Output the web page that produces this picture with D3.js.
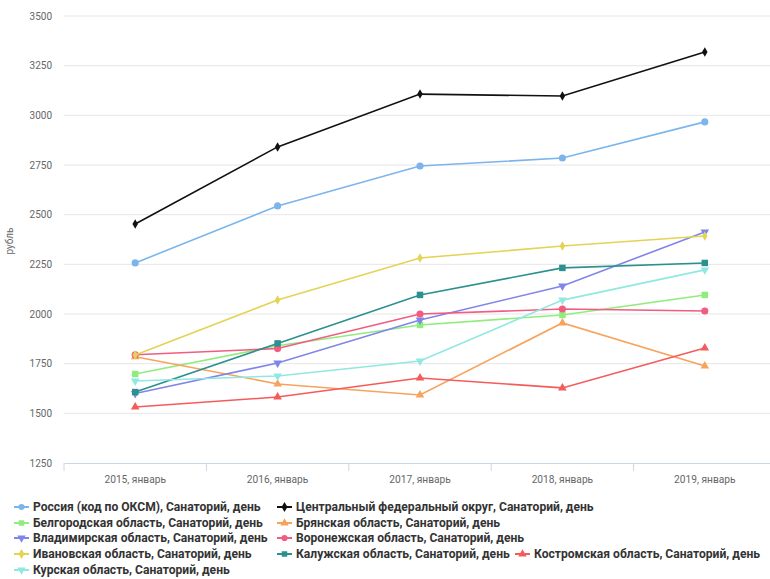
<!DOCTYPE html>
<html><head><meta charset="utf-8">
<script src="https://cdn.jsdelivr.net/npm/d3@7"></script>
<style>body{margin:0;background:#fff}svg{display:block}</style>
</head><body><svg id="c" width="770" height="579"></svg>
<script>
const categories = ["2015, январь","2016, январь","2017, январь","2018, январь","2019, январь"];
const yTicks = [1250,1500,1750,2000,2250,2500,2750,3000,3250,3500];
const seriesNames = [
 "Россия (код по ОКСМ), Санаторий, день",
 "Центральный федеральный округ, Санаторий, день",
 "Белгородская область, Санаторий, день",
 "Брянская область, Санаторий, день",
 "Владимирская область, Санаторий, день",
 "Воронежская область, Санаторий, день",
 "Ивановская область, Санаторий, день",
 "Калужская область, Санаторий, день",
 "Костромская область, Санаторий, день",
 "Курская область, Санаторий, день"
];
const russia   = [2257,2544,2745,2785,2967];
const central  = [2453,2841,3107,3097,3319];
const belgorod = [1698,1840,1945,1995,2096];
const bryansk  = [1785,1648,1592,1955,1738];
const vladimir = [1600,1753,1970,2141,2413];
const voronezh = [1795,1826,2000,2025,2015];
const ivanovo  = [1794,2070,2282,2342,2393];
const kaluga   = [1607,1852,2096,2232,2257];
const kostroma = [1532,1582,1678,1628,1829];
const kursk    = [1663,1688,1763,2070,2222];
const colors = ["#7cb5ec","#111111","#90ed7d","#f7a35c","#8085e9","#f15c80","#e4d354","#2b908f","#f45b5b","#91e8e1"];
const symbols = [d3.symbolCircle,d3.symbolDiamond,d3.symbolSquare,d3.symbolTriangle,"down",d3.symbolCircle,d3.symbolDiamond,d3.symbolSquare,d3.symbolTriangle,"down"];
const values = [russia,central,belgorod,bryansk,vladimir,voronezh,ivanovo,kaluga,kostroma,kursk];

const svg = d3.select("#c");
const x = d3.scaleBand().domain(categories).range([64,776]);
const y = d3.scaleLinear().domain([1250,3500]).range([463,16]);
const font = "Roboto, 'DejaVu Sans', sans-serif";

svg.append("g").selectAll("line").data(yTicks.filter(d=>d>1250)).join("line")
  .attr("x1",64).attr("x2",770).attr("y1",d=>y(d)).attr("y2",d=>y(d))
  .attr("stroke","#e6e6e6").attr("stroke-width",1);
svg.append("g").selectAll("text").data(yTicks).join("text")
  .attr("x",52).attr("y",d=>y(d)+3.5).attr("text-anchor","end")
  .attr("font-family",font).attr("font-size",10).attr("fill","#666").text(d=>d);
svg.append("text").attr("transform","translate(13,241) rotate(-90)").attr("text-anchor","middle")
  .attr("font-family",font).attr("font-size",10).attr("fill","#666").text("рубль");
const xa = svg.append("g").attr("transform","translate(0,463)")
  .call(d3.axisBottom(x).tickSize(0).tickPadding(13));
xa.select(".domain").attr("stroke","#ccd6eb");
xa.selectAll("text").attr("font-family",font).attr("font-size",10.2).attr("fill","#666");
svg.append("g").selectAll("line").data(d3.range(6)).join("line")
  .attr("x1",i=>64+i*x.bandwidth()).attr("x2",i=>64+i*x.bandwidth())
  .attr("y1",463).attr("y2",471).attr("stroke","#ccd6eb");

function sym(s,size){
  if(s==="down") return d3.symbol(d3.symbolTriangle,size)();
  return d3.symbol(s,size)();
}
function msize(s){ return s===d3.symbolCircle?40:s===d3.symbolSquare?42:s===d3.symbolDiamond?26:32; }
const line = d3.line().x((d,i)=>x(categories[i])+x.bandwidth()/2).y(d=>y(d));
values.forEach((vals,si)=>{
  const g = svg.append("g");
  g.append("path").attr("d",line(vals)).attr("fill","none").attr("stroke",colors[si]).attr("stroke-width",1.6);
  g.selectAll("path.m").data(vals).join("path").attr("class","m")
    .attr("d",sym(symbols[si],msize(symbols[si])))
    .attr("transform",(d,i)=>`translate(${x(categories[i])+x.bandwidth()/2},${y(d)})${symbols[si]==="down"?" rotate(180)":""}`)
    .attr("fill",colors[si]);
});

const legendPos = [[14,507],[277,507],[14,523],[277,523],[14,538],[277,538],[14,554],[277,554],[515,554],[14,570]];
const lg = svg.append("g");
seriesNames.forEach((n,i)=>{
  const [lx,ly] = legendPos[i];
  const g = lg.append("g").attr("transform",`translate(${lx},${ly})`);
  g.append("line").attr("x1",0).attr("x2",15).attr("y1",0).attr("y2",0).attr("stroke",colors[i]).attr("stroke-width",2);
  g.append("path").attr("d",sym(symbols[i],30)).attr("fill",colors[i])
    .attr("transform",`translate(7.5,0)${symbols[i]==="down"?" rotate(180)":""}`);
  g.append("text").attr("x",19).attr("y",4).attr("font-family",font).attr("font-size",12.1)
    .attr("font-weight","bold").attr("fill","#333").text(n);
});
</script></body></html>
